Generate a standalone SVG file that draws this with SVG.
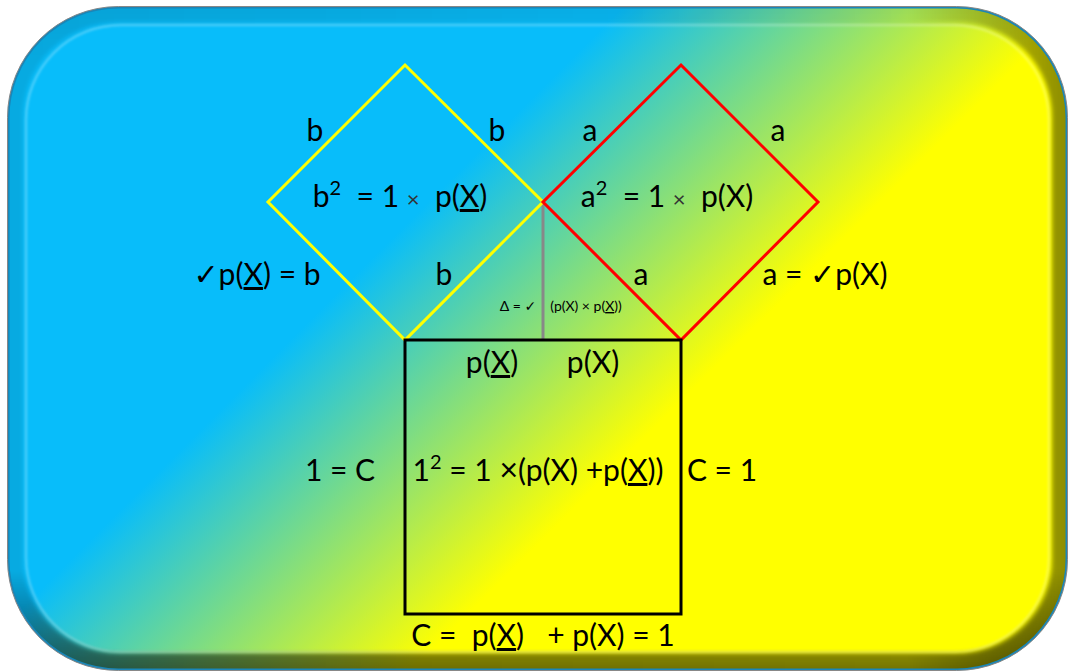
<svg xmlns="http://www.w3.org/2000/svg" width="1068" height="671" viewBox="0 0 1068 671">
<style>
text{white-space:pre}
.t{font-family:Lato,"Open Sans","DejaVu Sans",sans-serif;font-size:30px;fill:#000;text-anchor:middle}
.s{font-family:Lato,"Open Sans","DejaVu Sans",sans-serif;font-size:14px;fill:#000;text-anchor:middle}
.x{font-size:22px;fill:#333}
.u{text-decoration:underline}
</style>
<defs>
<linearGradient id="bg" gradientUnits="userSpaceOnUse" x1="315" y1="315" x2="541" y2="541">
<stop offset="0" stop-color="#08BDFA"/>
<stop offset="1" stop-color="#FFFF00"/>
</linearGradient>
<linearGradient id="bevV" gradientUnits="userSpaceOnUse" x1="0" y1="7" x2="0" y2="670">
<stop offset="0" stop-color="#000" stop-opacity="0.05"/>
<stop offset="0.1" stop-color="#000" stop-opacity="0"/>
<stop offset="0.85" stop-color="#000" stop-opacity="0"/>
<stop offset="1" stop-color="#000" stop-opacity="0.55"/>
</linearGradient>
<linearGradient id="bevH" gradientUnits="userSpaceOnUse" x1="8" y1="0" x2="1067" y2="0">
<stop offset="0" stop-color="#000" stop-opacity="0.1"/>
<stop offset="0.85" stop-color="#000" stop-opacity="0"/>
<stop offset="1" stop-color="#000" stop-opacity="0.45"/>
</linearGradient>
<clipPath id="cp"><rect x="8" y="7" width="1059" height="663" rx="110" ry="110"/></clipPath>
<filter id="bl" x="-5%" y="-5%" width="110%" height="110%"><feGaussianBlur stdDeviation="2"/></filter>
<filter id="bl1" x="-5%" y="-5%" width="110%" height="110%"><feGaussianBlur stdDeviation="1.2"/></filter>
</defs>
<g id="background">
<rect x="8" y="7" width="1059" height="663" rx="110" ry="110" fill="url(#bg)"/>
<g clip-path="url(#cp)">
<rect x="8" y="7" width="1059" height="663" rx="110" ry="110" fill="none" stroke="url(#bevV)" stroke-width="34" filter="url(#bl)"/>
<rect x="8" y="7" width="1059" height="663" rx="110" ry="110" fill="none" stroke="url(#bevH)" stroke-width="30" filter="url(#bl)"/>
<path d="M 110 25 L 965 25" fill="none" stroke="#fff" stroke-opacity="0.45" stroke-width="3" filter="url(#bl1)"/>
<rect x="26" y="25" width="1023" height="627" rx="95" ry="95" fill="none" stroke="#fff" stroke-opacity="0.25" stroke-width="2.5" filter="url(#bl1)"/>
</g>
<rect x="8.5" y="7.5" width="1058" height="662" rx="110" ry="110" fill="none" stroke="#1a86b8" stroke-width="2"/>
<rect x="7.5" y="6.5" width="1060" height="664" rx="111" ry="111" fill="none" stroke="#888" stroke-width="1"/>
</g>
<g id="connectors">
<line x1="543" y1="202" x2="543" y2="340" stroke="#888" stroke-width="3"/>
</g>
<g id="square-b">
<polygon points="405,65 543,202 405,340 268,202" fill="none" stroke="#FFFF00" stroke-width="3"/>
<text class="t" x="315" y="141">b</text>
<text class="t" x="497" y="141">b</text>
<text class="t" x="400" y="207">b<tspan dy="-12" font-size="20">2</tspan><tspan dy="12">  = 1 </tspan><tspan class="x">×</tspan><tspan>  p(<tspan class="u">X</tspan>)</tspan></text>
<text class="t" x="257" y="285">✓p(<tspan class="u">X</tspan>) = b</text>
<text class="t" x="444" y="285">b</text>
</g>
<g id="square-a">
<polygon points="681,65 818,202 681,340 543,202" fill="none" stroke="#FF0000" stroke-width="3"/>
<text class="t" x="590" y="141">a</text>
<text class="t" x="778" y="141">a</text>
<text class="t" x="667" y="207">a<tspan dy="-12" font-size="20">2</tspan><tspan dy="12">  = 1 </tspan><tspan class="x">×</tspan><tspan>  p(X)</tspan></text>
<text class="t" x="641" y="285">a</text>
<text class="t" x="825" y="285">a = ✓p(X)</text>
</g>
<g id="delta">
<text class="s" x="518" y="311">Δ = ✓</text>
<text class="s" x="586" y="311">(p(X) × p(<tspan class="u">X</tspan>))</text>
</g>
<g id="square-c">
<rect x="405" y="340" width="276" height="274" fill="none" stroke="#000" stroke-width="3"/>
<text class="t" x="492" y="373">p(<tspan class="u">X</tspan>)</text>
<text class="t" x="593" y="373">p(X)</text>
<text class="t" x="340" y="481">1 = C</text>
<text class="t" x="538" y="481">1<tspan dy="-12" font-size="20">2</tspan><tspan dy="12"> = 1 </tspan><tspan font-size="32">×</tspan>(p(X) +p(<tspan class="u">X</tspan>))</text>
<text class="t" x="722" y="481">C = 1</text>
<text class="t" x="543" y="646">C =  p(<tspan class="u">X</tspan>)   + p(X) = 1</text>
</g>
</svg>
